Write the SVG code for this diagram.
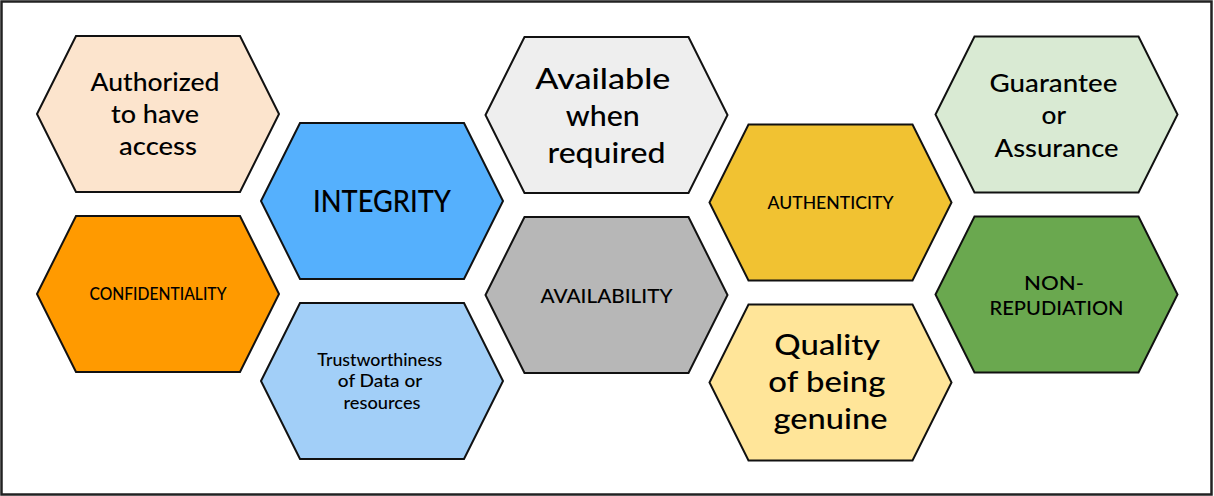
<svg xmlns="http://www.w3.org/2000/svg" width="1214" height="496" viewBox="0 0 1214 496">
  <style>
    .hex { stroke: #111; stroke-width: 2; stroke-linejoin: miter; }
    .lbl { font-family: Lato, "Open Sans", "Liberation Sans", sans-serif; fill: #000; text-anchor: middle; font-weight: 500; }
    tspan, text { }
  </style>
  <defs>
    <!-- hexagon 242 wide, 156 tall, centred on its origin -->
    <polygon id="hexShape" points="-121,0 -82,-78 82,-78 121,0 82,78 -82,78"/>
  </defs>

  <rect x="1.5" y="1.5" width="1210" height="493" fill="#fff" stroke="#222" stroke-width="2.5"/>

  <g id="node-authorized" transform="translate(158,114)">
    <use href="#hexShape" class="hex" fill="#fce4cd"/>
    <text class="lbl" font-size="24" lengthAdjust="spacingAndGlyphs">
      <tspan x="0" y="-23" textLength="129" lengthAdjust="spacingAndGlyphs">Authorized</tspan>
      <tspan x="0" y="9" textLength="88" lengthAdjust="spacingAndGlyphs">to have</tspan>
      <tspan x="0" y="41" textLength="78" lengthAdjust="spacingAndGlyphs">access</tspan>
    </text>
  </g>

  <g id="node-confidentiality" transform="translate(158,294)">
    <use href="#hexShape" class="hex" fill="#ff9a00"/>
    <text class="lbl" font-size="17" x="0" y="6" textLength="137" lengthAdjust="spacingAndGlyphs">CONFIDENTIALITY</text>
  </g>

  <g id="node-integrity" transform="translate(382,201)">
    <use href="#hexShape" class="hex" fill="#55b0fd"/>
    <text class="lbl" font-size="30" x="0" y="11" textLength="138" lengthAdjust="spacingAndGlyphs">INTEGRITY</text>
  </g>

  <g id="node-trustworthiness" transform="translate(382,381)">
    <use href="#hexShape" class="hex" fill="#a2cff8"/>
    <text class="lbl" font-size="17.5">
      <tspan x="0" y="-15" textLength="125" lengthAdjust="spacingAndGlyphs">Trustworthiness</tspan>
      <tspan x="0" y="6" textLength="84" lengthAdjust="spacingAndGlyphs">of Data or</tspan>
      <tspan x="0" y="28" textLength="77" lengthAdjust="spacingAndGlyphs">resources</tspan>
    </text>
  </g>

  <g id="node-available" transform="translate(606.5,115)">
    <use href="#hexShape" class="hex" fill="#eeeeee"/>
    <text class="lbl" font-size="29">
      <tspan x="0" y="-26" textLength="135" lengthAdjust="spacingAndGlyphs">Available</tspan>
      <tspan x="0" y="11" textLength="74" lengthAdjust="spacingAndGlyphs">when</tspan>
      <tspan x="0" y="48" textLength="118" lengthAdjust="spacingAndGlyphs">required</tspan>
    </text>
  </g>

  <g id="node-availability" transform="translate(606.5,295)">
    <use href="#hexShape" class="hex" fill="#b7b7b7"/>
    <text class="lbl" font-size="20" x="0" y="7.5" textLength="132" lengthAdjust="spacingAndGlyphs">AVAILABILITY</text>
  </g>

  <g id="node-authenticity" transform="translate(830.5,202.5)">
    <use href="#hexShape" class="hex" fill="#f1c232"/>
    <text class="lbl" font-size="18" x="0" y="6.5" textLength="126" lengthAdjust="spacingAndGlyphs">AUTHENTICITY</text>
  </g>

  <g id="node-quality" transform="translate(830.5,382.5)">
    <use href="#hexShape" class="hex" fill="#ffe599"/>
    <text class="lbl" font-size="29">
      <tspan x="0" y="-27.5" textLength="105" lengthAdjust="spacingAndGlyphs">Quality</tspan>
      <tspan x="0" y="9" textLength="117" lengthAdjust="spacingAndGlyphs">of being</tspan>
      <tspan x="0" y="46" textLength="114" lengthAdjust="spacingAndGlyphs">genuine</tspan>
    </text>
  </g>

  <g id="node-guarantee" transform="translate(1056.5,114.5)">
    <use href="#hexShape" class="hex" fill="#d9ead3"/>
    <text class="lbl" font-size="24">
      <tspan x="0" y="-23" textLength="128" lengthAdjust="spacingAndGlyphs">Guarantee</tspan>
      <tspan x="0" y="9.5" textLength="24" lengthAdjust="spacingAndGlyphs">or</tspan>
      <tspan x="0" y="42" textLength="124" lengthAdjust="spacingAndGlyphs">Assurance</tspan>
    </text>
  </g>

  <g id="node-non-repudiation" transform="translate(1056.5,294.5)">
    <use href="#hexShape" class="hex" fill="#6aa84f"/>
    <text class="lbl" font-size="19.5">
      <tspan x="0" y="-5" textLength="60" lengthAdjust="spacingAndGlyphs">NON-</tspan>
      <tspan x="0" y="20.5" textLength="134" lengthAdjust="spacingAndGlyphs">REPUDIATION</tspan>
    </text>
  </g>

  <g id="connectors"/>
</svg>
